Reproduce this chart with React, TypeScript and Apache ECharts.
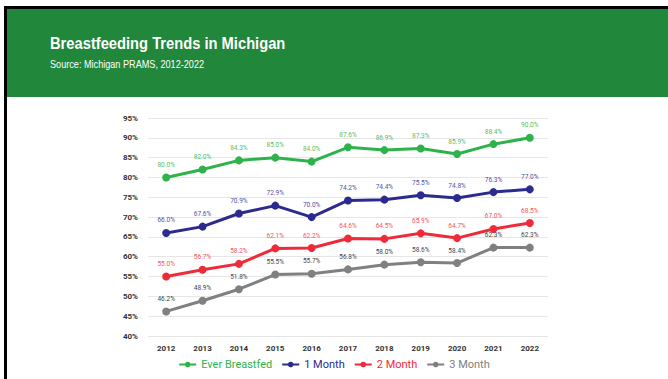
import React, { useEffect, useRef } from "react";
import * as echarts from "echarts";

const years = ["2012", "2013", "2014", "2015", "2016", "2017", "2018", "2019", "2020", "2021", "2022"];
const everBreastfed = [80.0, 82.0, 84.3, 85.0, 84.0, 87.6, 86.9, 87.3, 85.9, 88.4, 90.0];
const oneMonth = [66.0, 67.6, 70.9, 72.9, 70.0, 74.2, 74.4, 75.5, 74.8, 76.3, 77.0];
const twoMonth = [55.0, 56.7, 58.2, 62.1, 62.2, 64.6, 64.5, 65.9, 64.7, 67.0, 68.5];
const threeMonth = [46.2, 48.9, 51.8, 55.5, 55.7, 56.8, 58.0, 58.6, 58.4, 62.3, 62.3];

const seriesDefs = [
  { name: "Ever Breastfed", data: everBreastfed, color: "#2eb34b", labelColor: "#55c068" },
  { name: "1 Month", data: oneMonth, color: "#2b2b8e", labelColor: "#5252a6" },
  { name: "2 Month", data: twoMonth, color: "#ee2b39", labelColor: "#ef5560" },
  { name: "3 Month", data: threeMonth, color: "#808080", labelColor: "#444444" },
];

export default function App() {
  const ref = useRef<HTMLDivElement>(null);
  useEffect(() => {
    document.body.style.margin = "0";
    const chart = echarts.init(ref.current!, null, { renderer: "svg" });
    chart.setOption({
      animation: false,
      backgroundColor: "#ffffff",
      graphic: [
        { type: "rect", shape: { x: 4, y: 6, width: 700, height: 400 }, style: { fill: "#000000" }, z: -10 },
        { type: "rect", shape: { x: 7, y: 9, width: 700, height: 400 }, style: { fill: "#ffffff" }, z: -9 },
        { type: "rect", shape: { x: 7, y: 9, width: 700, height: 88 }, style: { fill: "#21873a" }, z: -8 },
        {
          type: "text", x: 50, y: 35, z: 10, scaleX: 0.92,
          style: { text: "Breastfeeding Trends in Michigan", fill: "#ffffff", font: "bold 16px 'Liberation Sans'" },
        },
        {
          type: "text", x: 50, y: 59, z: 10, scaleX: 0.83,
          style: { text: "Source: Michigan PRAMS, 2012-2022", fill: "#ffffff", font: "11px 'Liberation Sans'" },
        },
      ],
      grid: { left: 148, right: 120, top: 118, bottom: 43 },
      legend: {
        bottom: 4,
        left: "center",
        itemWidth: 17,
        itemHeight: 7,
        itemGap: 9,
        data: seriesDefs.map((s) => ({ name: s.name, textStyle: { color: s.color } })),
        textStyle: { fontSize: 11, fontFamily: "Roboto" },
      },
      xAxis: {
        type: "category",
        data: years,
        boundaryGap: true,
        axisLine: { show: false },
        axisTick: { show: false },
        axisLabel: { color: "#333333", fontSize: 8, fontFamily: "Roboto", fontWeight: "bold", margin: 8 },
      },
      yAxis: {
        type: "value",
        min: 40,
        max: 95,
        interval: 5,
        axisLine: { show: false },
        axisTick: { show: false },
        splitLine: { lineStyle: { color: "#e6e6e6", width: 1 } },
        axisLabel: { formatter: "{value}%", color: "#333333", fontSize: 8, fontFamily: "Roboto", fontWeight: "bold", margin: 10 },
      },
      series: seriesDefs.map((s) => ({
        name: s.name,
        type: "line",
        data: s.data,
        color: s.color,
        lineStyle: { width: 3, color: s.color },
        symbol: "circle",
        symbolSize: 8,
        itemStyle: { color: s.color },
        label: {
          show: true,
          position: "top",
          distance: 5,
          formatter: (p: any) => p.value.toFixed(1) + "%",
          color: s.labelColor,
          fontSize: 6.5,
          fontFamily: "Roboto",
        },
      })),
    });
    return () => chart.dispose();
  }, []);
  return <div ref={ref} style={{ width: 668, height: 379 }} />;
}
